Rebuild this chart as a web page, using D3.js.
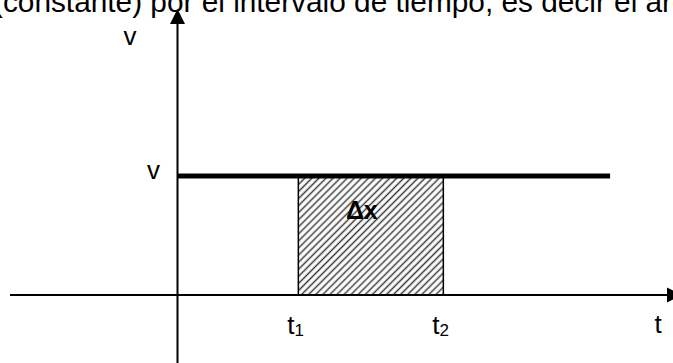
<!DOCTYPE html>
<html>
<head>
<meta charset="utf-8">
<script src="https://cdn.jsdelivr.net/npm/d3@7"></script>
<style>
  body { margin: 0; background: #fff; }
  svg { display: block; font-family: "Liberation Sans", Arial, sans-serif; }
</style>
</head>
<body>
<svg width="673" height="363"></svg>
<script>
// data
const topText = "(constante) por el intervalo de tiempo, es decir el área bajo la curva";
const timeLabels = ["t1", "t2"];
const times = [2.5, 5.5];
const velocity = 1;
const velocityEnd = 8.95;
const xAxisLabel = "t";
const yAxisLabel = "v";
const areaLabel = "Δx";

const svg = d3.select("svg");
const width = +svg.attr("width");
const height = +svg.attr("height");

const x = d3.scaleLinear()
  .domain([0, 3])
  .range([177.5, 322.5]);

const y = d3.scaleLinear()
  .domain([0, 1])
  .range([295, 176]);

const xMin = x.invert(10);
const xMax = x.invert(682);
const yMax = y.invert(9);

// hatch pattern
const defs = svg.append("defs");

defs.append("pattern")
  .attr("id", "hatch")
  .attr("patternUnits", "userSpaceOnUse")
  .attr("width", 5)
  .attr("height", 5)
  .attr("patternTransform", "rotate(45)")
  .append("line")
  .attr("x1", 1.5)
  .attr("y1", 0)
  .attr("x2", 1.5)
  .attr("y2", 5)
  .attr("stroke", "#3a3a3a")
  .attr("stroke-width", 1.5);

// top text (cut off in the source)
svg.append("text")
  .attr("x", -7)
  .attr("y", 12)
  .attr("font-size", 29.8)
  .attr("fill", "#000")
  .text(topText);

// shaded area
svg.append("rect")
  .attr("x", x(times[0]))
  .attr("y", y(velocity))
  .attr("width", x(times[1]) - x(times[0]))
  .attr("height", y(0) - y(velocity))
  .attr("fill", "url(#hatch)")
  .attr("stroke", "#000")
  .attr("stroke-width", 1.5);

svg.append("text")
  .attr("x", x((times[0] + times[1]) / 2) - 9)
  .attr("y", 219)
  .attr("text-anchor", "middle")
  .attr("font-size", 25)
  .attr("font-weight", 700)
  .text(areaLabel);

// axes
const axisG = svg.append("g")
  .attr("stroke", "#000")
  .attr("stroke-width", 2);

axisG.append("line")
  .attr("x1", x(xMin))
  .attr("x2", x(xMax) - 14)
  .attr("y1", y(0))
  .attr("y2", y(0));

axisG.append("line")
  .attr("x1", x(0))
  .attr("x2", x(0))
  .attr("y1", height)
  .attr("y2", y(yMax) + 14);

svg.append("path")
  .attr("d", `M${x(xMax)},${y(0)} L${x(xMax) - 15},${y(0) - 7.5} L${x(xMax) - 15},${y(0) + 7.5} Z`)
  .attr("fill", "#000");

svg.append("path")
  .attr("d", `M${x(0)},${y(yMax)} L${x(0) - 7.5},${y(yMax) + 15} L${x(0) + 7.5},${y(yMax) + 15} Z`)
  .attr("fill", "#000");

// constant velocity line
svg.append("line")
  .attr("x1", x(0))
  .attr("x2", x(velocityEnd))
  .attr("y1", y(velocity))
  .attr("y2", y(velocity))
  .attr("stroke", "#000")
  .attr("stroke-width", 5);

// labels
svg.append("text")
  .attr("x", 130)
  .attr("y", 45)
  .attr("text-anchor", "middle")
  .attr("font-size", 26)
  .text(yAxisLabel);

svg.append("text")
  .attr("x", x(0) - 24)
  .attr("y", y(velocity) + 3)
  .attr("text-anchor", "middle")
  .attr("font-size", 26)
  .text(yAxisLabel);

svg.append("text")
  .attr("x", 658)
  .attr("y", 333)
  .attr("text-anchor", "middle")
  .attr("font-size", 26)
  .text(xAxisLabel);

const tickG = svg.selectAll("text.tick")
  .data(timeLabels)
  .join("text")
  .attr("class", "tick")
  .attr("x", (d, i) => x(times[i]) - 11)
  .attr("y", 334)
  .attr("font-size", 26);

tickG.append("tspan")
  .text(d => d[0]);

tickG.append("tspan")
  .attr("font-size", 17)
  .attr("dy", 2)
  .text(d => d.slice(1));
</script>
</body>
</html>
